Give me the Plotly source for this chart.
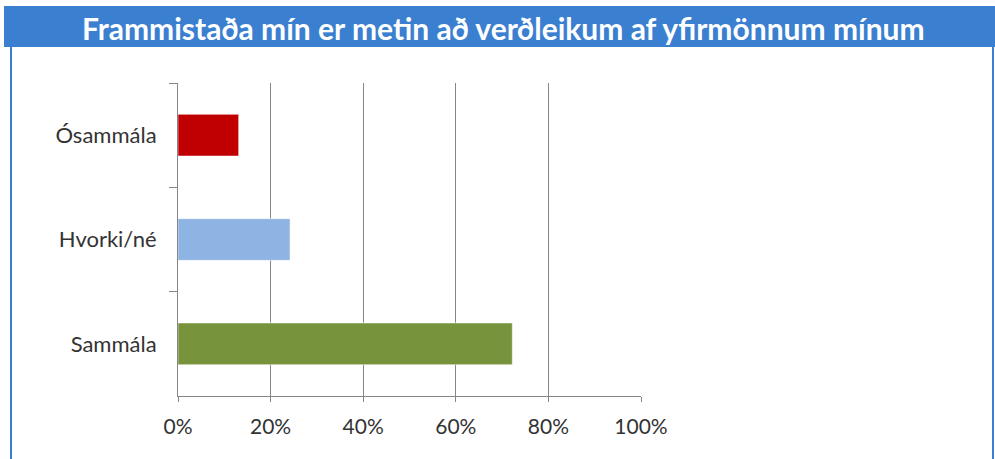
import plotly.graph_objects as go

categories = ["Ósammála", "Hvorki/né", "Sammála"]
values = [0.131, 0.242, 0.722]
colors = ["#C00000", "#8EB4E3", "#77933C"]
x_ticks = [0, 0.2, 0.4, 0.6, 0.8, 1.0]
x_tick_labels = ["0%", "20%", "40%", "60%", "80%", "100%"]
title_text = "Frammistaða mín er metin að verðleikum af yfirmönnum mínum"

W, H = 995, 459
L, R, T, B = 178, 641, 83, 396

def px(x):
    return (x - L) / (R - L)

def py(y):
    return (B - y) / (B - T)

fig = go.Figure()
fig.add_trace(go.Bar(
    x=values, y=categories, orientation="h",
    marker=dict(color=colors, line=dict(color="rgba(255,255,255,0.5)", width=1)),
    width=0.4, hoverinfo="x+y",
))

fig.update_layout(
    width=W, height=H,
    margin=dict(l=L, r=W - R, t=T, b=H - B, pad=0),
    paper_bgcolor="white", plot_bgcolor="white",
    showlegend=False,
    font=dict(family="Lato, sans-serif", color="#333333", size=21),
    xaxis=dict(
        range=[0, 1], tickvals=x_ticks, ticktext=x_tick_labels,
        showgrid=True, gridcolor="#868686", gridwidth=1,
        showline=True, linecolor="#868686", linewidth=1,
        ticks="outside", ticklen=5, tickcolor="#868686",
        zeroline=False, fixedrange=True,
        ticklabelstandoff=7, tickfont=dict(size=21),
    ),
    yaxis=dict(
        autorange="reversed",
        showline=True, linecolor="#868686", linewidth=1,
        ticks="outside", ticklen=8, tickcolor="#868686",
        tickson="boundaries", showgrid=False,
        ticklabelstandoff=16, fixedrange=True, tickfont=dict(size=22),
    ),
    shapes=[
        dict(type="rect", xref="paper", yref="paper",
             x0=px(11), x1=px(993), y0=py(475), y1=py(7),
             line=dict(color="#3A7FD0", width=2), fillcolor="rgba(0,0,0,0)", layer="above"),
        dict(type="rect", xref="paper", yref="paper",
             x0=px(4), x1=px(1000), y0=py(47), y1=py(6),
             line=dict(width=0), fillcolor="#3A7FD0", layer="above"),
    ],
    annotations=[
        dict(text="<b>" + title_text + "</b>", xref="paper", yref="paper",
             x=px(503), y=py(28), xanchor="center", yanchor="middle",
             showarrow=False, font=dict(family="Lato, sans-serif", size=30, color="white")),
    ],
)

fig.write_html("out.html", config={"displayModeBar": False},
               post_script="document.body.style.margin='0';document.body.style.overflow='hidden';")
